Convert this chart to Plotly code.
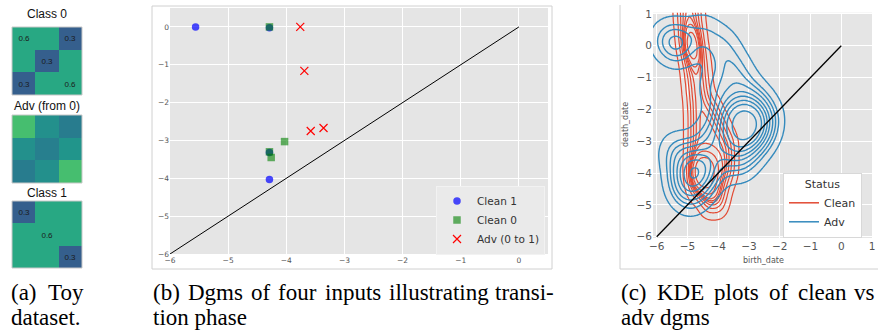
import numpy as np
import plotly.graph_objects as go

W, H = 878, 330

# ---------------- (a) toy dataset ----------------
HEAT_TITLES = ["Class 0", "Adv (from 0)", "Class 1"]
CLASS0 = [[0.6, 0.6, 0.3], [0.6, 0.3, 0.6], [0.3, 0.6, 0.6]]
CLASS0_TEXT = [["0.6", "", "0.3"], ["", "0.3", ""], ["0.3", "", "0.6"]]
ADV0 = [[0.70, 0.50, 0.42], [0.50, 0.43, 0.52], [0.42, 0.50, 0.70]]
ADV0_TEXT = [["", "", ""], ["", "", ""], ["", "", ""]]
CLASS1 = [[0.3, 0.6, 0.6], [0.6, 0.6, 0.6], [0.6, 0.6, 0.3]]
CLASS1_TEXT = [["0.3", "", ""], ["", "0.6", ""], ["", "", "0.3"]]

# ---------------- (b) persistence diagrams ----------------
CLEAN1_BIRTH = [-5.56, -4.29, -4.29, -4.29]
CLEAN1_DEATH = [0.0, -0.02, -3.32, -4.03]
CLEAN0_BIRTH = [-4.29, -4.29, -4.26, -4.03]
CLEAN0_DEATH = [0.0, -3.30, -3.45, -3.03]
ADV01_BIRTH = [-3.76, -3.69, -3.58, -3.36]
ADV01_DEATH = [0.0, -1.16, -2.75, -2.67]
DIAG = [-6, 0]
B_TICKS = [-6, -5, -4, -3, -2, -1, 0]

# ---------------- (c) KDE of clean vs adv diagrams (estimated sample points) ----------------
CLEAN_BIRTH = [-4.40, -4.15, -3.90,
               -4.80, -4.55, -4.30, -4.05, -3.80,
               -4.85, -4.60, -4.35, -4.10, -3.85, -3.60,
               -4.85, -4.60, -4.35, -4.10, -3.85, -3.60,
               -4.85, -4.60, -4.35, -4.10, -3.85, -3.60,
               -4.85, -4.60, -4.35, -4.10, -3.85,
               -4.85, -4.60, -4.35, -4.10,
               -4.90, -4.65, -4.40,
               -4.95, -4.70, -4.45,
               -5.00, -4.75, -4.50,
               -5.10, -4.85, -4.60,
               -5.15, -4.90, -4.65,
               -5.20, -4.95, -4.70,
               -5.20, -4.95, -4.70,
               -4.60, -4.40, -4.50, -4.30, -4.70, -4.20, -4.90, -4.80]
CLEAN_DEATH = [-5.0, -5.0, -5.0,
               -4.5, -4.5, -4.5, -4.5, -4.5,
               -4.0, -4.0, -4.0, -4.0, -4.0, -4.0,
               -3.5, -3.5, -3.5, -3.5, -3.5, -3.5,
               -3.0, -3.0, -3.0, -3.0, -3.0, -3.0,
               -2.5, -2.5, -2.5, -2.5, -2.5,
               -2.0, -2.0, -2.0, -2.0,
               -1.5, -1.5, -1.5,
               -1.0, -1.0, -1.0,
               -0.5, -0.5, -0.5,
               0.0, 0.0, 0.0,
               0.5, 0.5, 0.5,
               1.0, 1.0, 1.0,
               1.5, 1.5, 1.5,
               -4.2, -4.0, -3.7, -4.4, -3.9, -3.8, 0.2, -0.2]
ADV_BIRTH = [-3.20, -3.50, -2.90, -3.35, -3.05, -2.70, -3.65, -3.00, -3.45, -2.60, -3.30, -3.10,
             -3.60, -2.85, -2.50, -3.80, -3.20, -3.00,
             -4.75, -5.05, -4.50, -4.85, -4.60, -5.15, -4.35, -4.95,
             -5.30, -5.30,
             -4.50, -3.90, -3.60, -3.30, -4.10, -4.00, -4.30, -5.40, -3.30, -5.70, -4.90]
ADV_DEATH = [-2.50, -2.20, -2.80, -3.00, -2.00, -2.30, -2.70, -3.20, -1.80, -2.70, -2.60, -2.35,
             -3.30, -1.70, -2.20, -2.20, -2.45, -2.60,
             -4.00, -3.90, -4.15, -4.35, -3.70, -4.35, -3.85, -3.60,
             0.00, 0.10,
             0.40, 0.00, -0.60, -1.10, -1.30, -3.30, -2.90, -3.30, -3.70, 0.20, -4.70]
CLEAN_BW = (0.20, 0.32)
ADV_BW = (0.40, 0.45)
C_XTICKS = [-6, -5, -4, -3, -2, -1, 0, 1]
C_YTICKS = [-6, -5, -4, -3, -2, -1, 0, 1]
STATUS = ["Clean", "Adv"]
STATUS_COLORS = ["#E24A33", "#348ABD"]

# ---------------- captions ----------------
CAP_A = ["(a)", "Toy"]
CAP_A2 = "dataset."
CAP_B = ["(b)", "Dgms", "of", "four", "inputs", "illustrating", "transi-"]
CAP_B2 = "tion phase"
CAP_C = ["(c)", "KDE", "plots", "of", "clean", "vs"]
CAP_C2 = "adv dgms"

TIMES_W = {'(': 333, ')': 333, 'a': 444, 'b': 500, 'c': 444, 'd': 500, 'e': 444, 'f': 333, 'g': 500,
           'h': 500, 'i': 278, 'l': 278, 'm': 778, 'n': 500, 'o': 500, 'p': 500, 'r': 333, 's': 389,
           't': 278, 'u': 500, 'v': 500, 'y': 500, 'D': 722, 'E': 611, 'K': 722, 'T': 611, '-': 333,
           '.': 250, ' ': 250}
CAP_SIZE = 23


def px(x):
    return x / W


def py(y):
    return 1 - y / H


def minus(v):
    return str(v).replace("-", "\u2212")


def word_w(w):
    return sum(TIMES_W.get(c, 500) for c in w) * CAP_SIZE / 1000.0


def justify(words, x0, x1):
    widths = [word_w(w) for w in words]
    gap = (x1 - x0 - sum(widths)) / (len(words) - 1)
    xs, x = [], x0
    for wd in widths:
        xs.append(x)
        x += wd + gap
    return xs


def kde(bx, dy, bw, gx, gy):
    X, Y = np.meshgrid(gx, gy)
    z = np.zeros_like(X)
    for b, d in zip(bx, dy):
        z += np.exp(-0.5 * (((X - b) / bw[0]) ** 2 + ((Y - d) / bw[1]) ** 2))
    return z / z.sum()


def iso_transform(z, n_levels=10, thresh=0.05):
    props = np.linspace(thresh, 1, n_levels)[:-1]
    vals = np.sort(z.ravel())[::-1]
    cum = np.cumsum(vals) / vals.sum()
    idx = np.searchsorted(cum, 1 - props)
    lev = np.take(vals, idx, mode="clip")
    xp = np.concatenate([[0.0], lev, [z.max() * 1.001 + 1e-12]])
    fp = np.concatenate([[-1.0], np.arange(len(lev)), [len(lev)]])
    return np.interp(z, xp, fp), len(lev)


fig = go.Figure()

# ---- (a) heatmaps
heat_rows = [(95, 27), (183, 115), (268, 201)]
heat_data = [(CLASS0, CLASS0_TEXT), (ADV0, ADV0_TEXT), (CLASS1, CLASS1_TEXT)]
title_y = [14, 106, 193]
for i, ((zv, tv), (yb, yt)) in enumerate(zip(heat_data, heat_rows)):
    k = "" if i == 0 else str(i + 1)
    fig.add_trace(go.Heatmap(z=zv, text=tv, texttemplate="%{text}",
                             textfont=dict(size=8, color="#1b1b1b", family="Liberation Sans"),
                             colorscale="Viridis", zmin=0, zmax=1, showscale=False,
                             xaxis="x" + k, yaxis="y" + k, hoverinfo="skip"))
    fig.layout["xaxis" + k] = dict(domain=[px(12), px(82)], range=[-0.5, 2.5], visible=False,
                                   anchor="y" + k, automargin=False)
    fig.layout["yaxis" + k] = dict(domain=[py(yb), py(yt)], range=[2.5, -0.5], visible=False,
                                   anchor="x" + k, automargin=False)
    fig.add_shape(type="rect", xref="paper", yref="paper", x0=px(12), x1=px(82),
                  y0=py(yb), y1=py(yt), line=dict(color="#c8c8c8", width=1))
    fig.add_annotation(text=HEAT_TITLES[i], x=px(47), y=py(title_y[i]), xref="paper", yref="paper",
                       showarrow=False, xanchor="center", yanchor="middle",
                       font=dict(family="Liberation Sans", size=12, color="#111"))

# ---- (b) diagrams
fig.add_trace(go.Scatter(x=DIAG, y=DIAG, mode="lines", line=dict(color="black", width=1),
                         xaxis="x4", yaxis="y4", showlegend=False, hoverinfo="skip"))
fig.add_trace(go.Scatter(x=CLEAN1_BIRTH, y=CLEAN1_DEATH, mode="markers", name="Clean 1",
                         marker=dict(symbol="circle", size=7.5, color="blue", opacity=0.7),
                         xaxis="x4", yaxis="y4", legend="legend"))
fig.add_trace(go.Scatter(x=CLEAN0_BIRTH, y=CLEAN0_DEATH, mode="markers", name="Clean 0",
                         marker=dict(symbol="square", size=7.5, color="green", opacity=0.6),
                         xaxis="x4", yaxis="y4", legend="legend"))
fig.add_trace(go.Scatter(x=ADV01_BIRTH, y=ADV01_DEATH, mode="markers", name="Adv (0 to 1)",
                         marker=dict(symbol="x-thin", size=8, color="red",
                                     line=dict(color="red", width=1.2)),
                         xaxis="x4", yaxis="y4", legend="legend"))

tickfont_b = dict(family="DejaVu Sans", size=7.5, color="#555")
fig.layout.xaxis4 = dict(domain=[px(170), px(548)], range=[-6, 0.5], anchor="y4",
                         tickvals=B_TICKS, ticktext=[minus(t) for t in B_TICKS],
                         showgrid=True, gridcolor="white", gridwidth=1, zeroline=False,
                         tickfont=tickfont_b, showline=False, automargin=False)
fig.layout.yaxis4 = dict(domain=[py(254), py(8)], range=[-6, 0.5], anchor="x4",
                         tickvals=B_TICKS, ticktext=[minus(t) for t in B_TICKS],
                         showgrid=True, gridcolor="white", gridwidth=1, zeroline=False,
                         tickfont=tickfont_b, showline=False, automargin=False)
fig.add_shape(type="rect", xref="paper", yref="paper", x0=px(152), x1=px(552),
              y0=py(269), y1=py(6), line=dict(color="#d0d0d0", width=1))

# ---- (c) KDE
gx = np.linspace(-7.5, 1.5, 226)
gy = np.linspace(-8.0, 3.5, 289)
kde_sets = [(STATUS_COLORS[0], CLEAN_BIRTH, CLEAN_DEATH, CLEAN_BW, 1.2),
            (STATUS_COLORS[1], ADV_BIRTH, ADV_DEATH, ADV_BW, 1.4)]
for color, bx, dy, bw, lw in kde_sets:
    z = kde(bx, dy, bw, gx, gy)
    zt, nl = iso_transform(z)
    fig.add_trace(go.Contour(x=gx, y=gy, z=zt,
                             contours=dict(start=0, end=nl - 1, size=1, coloring="lines"),
                             colorscale=[[0, color], [1, color]], showscale=False,
                             line=dict(width=lw, smoothing=1), xaxis="x5", yaxis="y5",
                             hoverinfo="skip", showlegend=False))
for name, color in zip(STATUS, STATUS_COLORS):
    fig.add_trace(go.Scatter(x=[None], y=[None], mode="lines", name=name,
                             line=dict(color=color, width=1.5), xaxis="x5", yaxis="y5",
                             legend="legend2"))
fig.add_trace(go.Scatter(x=DIAG, y=DIAG, mode="lines", line=dict(color="black", width=1.3),
                         xaxis="x5", yaxis="y5", showlegend=False, hoverinfo="skip"))

tickfont_c = dict(family="DejaVu Sans", size=10.5, color="#555")
fig.layout.xaxis5 = dict(domain=[px(653), px(872)], range=[-6.12, 1.0], anchor="y5",
                         tickvals=C_XTICKS, ticktext=[minus(t) for t in C_XTICKS],
                         showgrid=True, gridcolor="white", gridwidth=1, zeroline=False,
                         tickfont=tickfont_c, showline=False, automargin=False)
fig.layout.yaxis5 = dict(domain=[py(238), py(12.7)], range=[-6.04, 1.04], anchor="x5",
                         tickvals=C_YTICKS, ticktext=[minus(t) for t in C_YTICKS],
                         showgrid=True, gridcolor="white", gridwidth=1, zeroline=False,
                         tickfont=tickfont_c, showline=False, automargin=False)
axis_title_font = dict(family="DejaVu Sans", size=8, color="#555")
fig.add_annotation(text="birth_date", x=px(763), y=py(260), xref="paper", yref="paper",
                   showarrow=False, xanchor="center", yanchor="middle", font=axis_title_font)
fig.add_annotation(text="death_date", x=px(625), y=py(125), xref="paper", yref="paper",
                   showarrow=False, xanchor="center", yanchor="middle", textangle=-90,
                   font=axis_title_font)
fig.add_shape(type="line", xref="paper", yref="paper", x0=px(620), x1=px(620), y0=py(269), y1=py(5),
              line=dict(color="#d0d0d0", width=1))
fig.add_shape(type="line", xref="paper", yref="paper", x0=px(620), x1=px(878), y0=py(269), y1=py(269),
              line=dict(color="#d0d0d0", width=1))

# ---- captions (justified first lines like the source layout)
cap_font = dict(family="Liberation Serif", size=CAP_SIZE, color="black")
L1, L2 = 292, 317
cap_items = []
for words, x0, x1, second, x2 in [(CAP_A, 10, 85, CAP_A2, 10),
                                  (CAP_B, 152, 555, CAP_B2, 152),
                                  (CAP_C, 620, 876, CAP_C2, 620)]:
    xs = justify(words, x0, x1)
    for j, (w, x) in enumerate(zip(words, xs)):
        if j == len(words) - 1:
            cap_items.append((x1, L1, w, "right"))
        else:
            cap_items.append((x, L1, w, "left"))
    cap_items.append((x2, L2, second, "left"))
for x, y, t, anc in cap_items:
    fig.add_annotation(text=t, x=px(x), y=py(y), xref="paper", yref="paper", showarrow=False,
                       xanchor=anc, yanchor="middle", font=cap_font, borderpad=0)

fig.update_layout(
    width=W, height=H, margin=dict(l=0, r=0, t=0, b=0, autoexpand=False),
    paper_bgcolor="white", plot_bgcolor="#E5E5E5",
    legend=dict(x=px(436), y=py(220), xanchor="left", yanchor="middle",
                bgcolor="#eaeaea", bordercolor="#f2f2f2", borderwidth=1,
                font=dict(family="DejaVu Sans", size=10.5, color="#333"),
                tracegroupgap=0, itemwidth=30),
    legend2=dict(x=px(862), y=py(238), xanchor="right", yanchor="bottom",
                 bgcolor="white", bordercolor="#d8d8d8", borderwidth=1,
                 title=dict(text="Status", side="top center",
                            font=dict(family="DejaVu Sans", size=11, color="#333")),
                 font=dict(family="DejaVu Sans", size=11, color="#333"), itemwidth=30),
    showlegend=True,
)

fig.write_html("out.html", config={"displayModeBar": False},
               post_script="document.body.style.margin='0';document.body.style.overflow='hidden';")
